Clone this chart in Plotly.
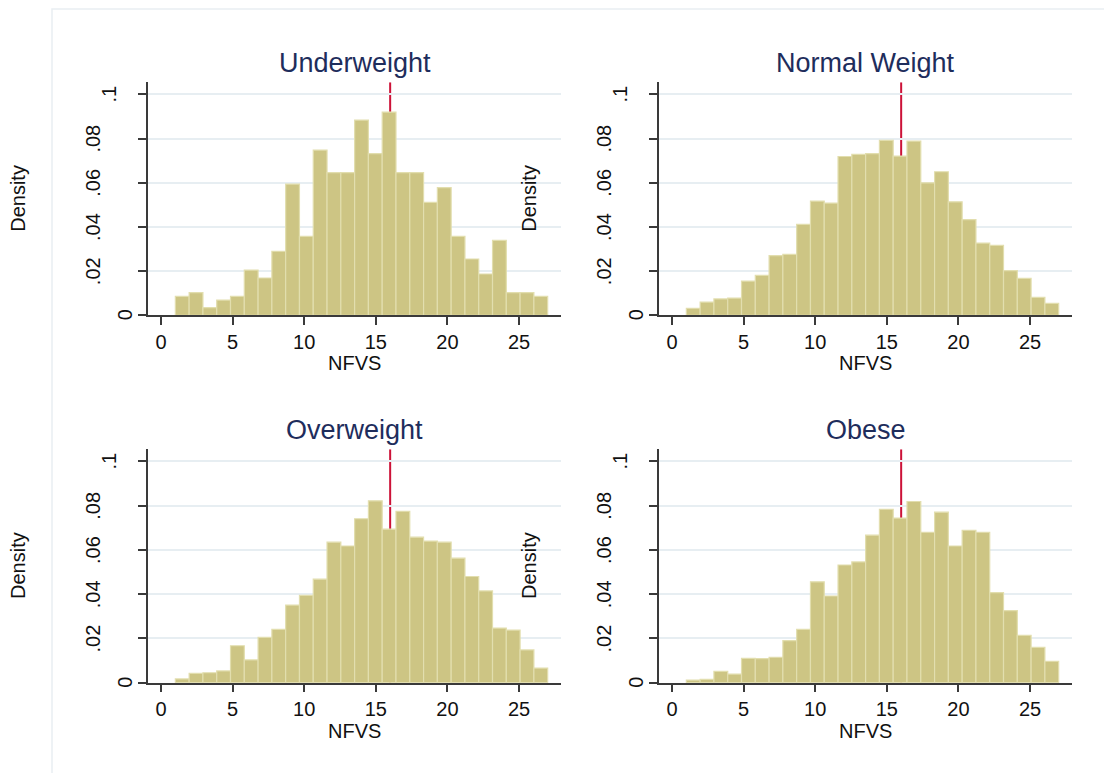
import plotly.graph_objects as go

# ---------------- data ----------------
titles = ["Underweight", "Normal Weight", "Overweight", "Obese"]

nfvs_min = 1
nfvs_max = 27
n_bins = 27

underweight = [0.0086, 0.0103, 0.0035, 0.0069, 0.0086, 0.0205, 0.0169, 0.0290, 0.0594,
               0.0357, 0.0748, 0.0646, 0.0646, 0.0884, 0.0732, 0.0920, 0.0646, 0.0646,
               0.0511, 0.0578, 0.0357, 0.0255, 0.0187, 0.0339, 0.0103, 0.0103, 0.0086]
normal_weight = [0.0032, 0.0060, 0.0074, 0.0078, 0.0155, 0.0181, 0.0270, 0.0276, 0.0412,
                 0.0517, 0.0508, 0.0719, 0.0729, 0.0732, 0.0792, 0.0721, 0.0789, 0.0600,
                 0.0650, 0.0514, 0.0433, 0.0327, 0.0317, 0.0202, 0.0167, 0.0081, 0.0054]
overweight = [0.0017, 0.0042, 0.0045, 0.0053, 0.0167, 0.0103, 0.0205, 0.0241, 0.0351,
              0.0395, 0.0468, 0.0635, 0.0618, 0.0741, 0.0822, 0.0694, 0.0775, 0.0658,
              0.0640, 0.0635, 0.0563, 0.0480, 0.0415, 0.0247, 0.0238, 0.0148, 0.0066]
obese = [0.0012, 0.0015, 0.0051, 0.0039, 0.0110, 0.0109, 0.0115, 0.0190, 0.0241,
         0.0456, 0.0392, 0.0532, 0.0546, 0.0667, 0.0784, 0.0744, 0.0819, 0.0680,
         0.0771, 0.0618, 0.0689, 0.0680, 0.0407, 0.0326, 0.0214, 0.0160, 0.0097]
series = [underweight, normal_weight, overweight, obese]

median_nfvs = [16, 16, 16, 16]

x_ticks = [0, 5, 10, 15, 20, 25]
y_ticks = [0, 0.02, 0.04, 0.06, 0.08, 0.1]
y_tick_text = ["0", ".02", ".04", ".06", ".08", ".1"]

x_title = "NFVS"
y_title = "Density"

# ---------------- style ----------------
W, H = 1104, 773
FONT = "Liberation Sans, Arial, sans-serif"
BAR_FILL = "#cdc584"
BAR_LINE = "#e2deae"
GRID = "#e7eef2"
AXIS = "#3a3a3a"
TITLE_COLOR = "#1e2d5c"
MEDIAN_COLOR = "#cc1238"
TXT = "#111111"

col_px = [(148, 561), (659, 1072)]
row_px = [(82.3, 315.3), (449.3, 682.7)]
x_range = [-0.91, 27.93]
y_range = [0, 0.1055]

bin_w = (nfvs_max - nfvs_min) / n_bins
centers = [nfvs_min + (i + 0.5) * bin_w for i in range(n_bins)]

fig = go.Figure()
annotations = []
shapes = []

for k in range(4):
    r, c = divmod(k, 2)
    sfx = "" if k == 0 else str(k + 1)
    xa, ya = "x" + sfx, "y" + sfx
    xd = [col_px[c][0] / W, col_px[c][1] / W]
    yd = [1 - row_px[r][1] / H, 1 - row_px[r][0] / H]

    fig.add_trace(go.Bar(
        x=centers, y=series[k], width=[bin_w] * n_bins,
        marker=dict(color=BAR_FILL, line=dict(color=BAR_LINE, width=1.2)),
        xaxis=xa, yaxis=ya, showlegend=False, hoverinfo="x+y",
    ))

    # median line, drawn underneath the bars
    shapes.append(dict(type="line", xref=xa, yref=ya,
                       x0=median_nfvs[k], x1=median_nfvs[k], y0=0, y1=y_range[1],
                       line=dict(color=MEDIAN_COLOR, width=2), layer="below"))

    common = dict(showline=True, linecolor=AXIS, linewidth=1.5, ticks="outside",
                  ticklen=8, tickwidth=1.5, tickcolor=AXIS, zeroline=False,
                  tickfont=dict(family=FONT, size=20, color=TXT))
    fig.layout["xaxis" + sfx] = dict(domain=xd, range=x_range, anchor=ya,
                                     tickvals=x_ticks, showgrid=False, **common)
    fig.layout["yaxis" + sfx] = dict(domain=yd, range=y_range, anchor=xa,
                                     tickvals=y_ticks, showticklabels=False,
                                     showgrid=True, gridcolor=GRID, gridwidth=1.5,
                                     **common)

    # panel title
    annotations.append(dict(text=titles[k], xref=xa + " domain", yref=ya + " domain",
                            x=0.5, y=1, yshift=19, xanchor="center", yanchor="middle",
                            showarrow=False,
                            font=dict(family=FONT, size=27, color=TITLE_COLOR)))
    # x title
    annotations.append(dict(text=x_title, xref=xa + " domain", yref=ya + " domain",
                            x=0.5, y=0, yshift=-48, xanchor="center", yanchor="middle",
                            showarrow=False, font=dict(family=FONT, size=20, color=TXT)))
    # y title
    annotations.append(dict(text=y_title, xref=xa + " domain", yref=ya + " domain",
                            x=0, y=0.5, xshift=-130, xanchor="center", yanchor="middle",
                            textangle=-90, showarrow=False,
                            font=dict(family=FONT, size=20, color=TXT)))
    # rotated y tick labels
    for v, t in zip(y_ticks, y_tick_text):
        annotations.append(dict(text=t, xref=xa + " domain", yref=ya, x=0, y=v,
                                xshift=-7 - 16 * len(t), xanchor="center",
                                yanchor="middle", textangle=-90, showarrow=False,
                                font=dict(family=FONT, size=20, color=TXT)))

# faint outer region border
shapes.append(dict(type="rect", xref="paper", yref="paper",
                   x0=52 / W, y0=-0.05, x1=1.05, y1=1 - 9 / H,
                   line=dict(color="#e9eef2", width=1.5), layer="below"))

fig.update_layout(width=W, height=H, autosize=False,
                  margin=dict(l=0, r=0, t=0, b=0),
                  paper_bgcolor="white", plot_bgcolor="white",
                  annotations=annotations, shapes=shapes,
                  font=dict(family=FONT))

fig.write_html("out.html")
